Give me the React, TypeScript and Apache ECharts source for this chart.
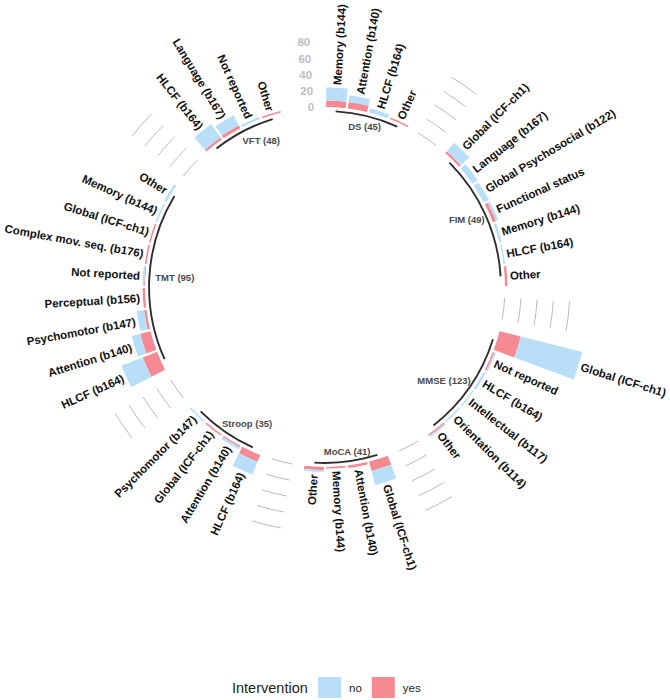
import React, { useEffect, useRef } from "react";
import * as echarts from "echarts";

// ---------- data ----------
const groups = ["DS", "FIM", "MMSE", "MoCA", "Stroop", "TMT", "VFT"];
const groupTotals = [45, 49, 123, 41, 35, 95, 48];

const dsCategories = ["Memory (b144)", "Attention (b140)", "HLCF (b164)", "Other"];
const dsYes = [8, 8, 0, 2];
const dsNo = [16, 8, 5, 0];

const fimCategories = ["Global (ICF-ch1)", "Language (b167)", "Global Psychosocial (b122)", "Functional status", "Memory (b144)", "HLCF (b164)", "Other"];
const fimYes = [3, 0, 0, 4, 0, 0, 3];
const fimNo = [14, 8, 7, 3, 3, 2, 0];

const mmseCategories = ["Global (ICF-ch1)", "Not reported", "HLCF (b164)", "Intellectual (b117)", "Orientation (b114)", "Other"];
const mmseYes = [27, 2, 0, 0, 0, 2];
const mmseNo = [78, 2, 3, 2, 2, 2];

const mocaCategories = ["Global (ICF-ch1)", "Attention (b140)", "Memory (b144)", "Other"];
const mocaYes = [12, 3, 2, 4];
const mocaNo = [18, 0, 0, 2];

const stroopCategories = ["HLCF (b164)", "Attention (b140)", "Global (ICF-ch1)", "Psychomotor (b147)"];
const stroopYes = [9, 2, 2, 0];
const stroopNo = [17, 3, 0, 2];

const tmtCategories = ["HLCF (b164)", "Attention (b140)", "Psychomotor (b147)", "Perceptual (b156)", "Not reported", "Complex mov. seq. (b176)", "Global (ICF-ch1)", "Memory (b144)", "Other"];
const tmtYes = [19, 13, 3, 3, 1, 2, 2, 0, 0];
const tmtNo = [28, 11, 9, 0, 2, 0, 0, 2, 3];

const vftCategories = ["HLCF (b164)", "Language (b167)", "Not reported", "Other"];
const vftYes = [3, 4, 0, 2];
const vftNo = [20, 14, 3, 0];

const gridValues = [0, 20, 40, 60, 80];
const radiusTickLabels = ["0", "20", "40", "60", "80"];
const seriesNames = ["no", "yes"];
const legendTitle = "Intervention";

// ---------- styling constants ----------
const EMPTY_SLOTS = 2;
const BLUE = "#B8DEF8";
const PINK = "#F58A93";
const FONT = '"Liberation Sans", Arial, Helvetica, sans-serif';
const BAR_LABEL_FONT = `bold 11.5px ${FONT}`;
const GROUP_LABEL_FONT = `bold 9.5px ${FONT}`;
const groupLabelHjust = [0.5, 0.75, 0.82, 0.45, 0.18, 0.12, 0.15];

// ---------- build slots ----------
const groupCats = [dsCategories, fimCategories, mmseCategories, mocaCategories, stroopCategories, tmtCategories, vftCategories];
const groupYes = [dsYes, fimYes, mmseYes, mocaYes, stroopYes, tmtYes, vftYes];
const groupNo = [dsNo, fimNo, mmseNo, mocaNo, stroopNo, tmtNo, vftNo];

type Slot = { id: string; label: string | null; yes: number; no: number };
const slots: Slot[] = [];
const groupRanges: { start: number; end: number }[] = [];
groupCats.forEach((cats, g) => {
  const start = slots.length;
  cats.forEach((c, i) => {
    slots.push({ id: `${groups[g]}|${c}`, label: c, yes: groupYes[g][i], no: groupNo[g][i] });
  });
  groupRanges.push({ start, end: slots.length - 1 });
  for (let k = 0; k < EMPTY_SLOTS; k++) {
    slots.push({ id: `gap|${g}|${k}`, label: null, yes: 0, no: 0 });
  }
});
const slotIds = slots.map((s) => s.id);
const yesData = slots.map((s) => (s.label ? s.yes : "-"));
const noData = slots.map((s) => (s.label ? s.no : "-"));

// bar labels
const barLabelItems = slots
  .map((s, i) => ({ s, i }))
  .filter((o) => o.s.label)
  .map((o) => ({ r: o.s.yes + o.s.no + 3.5, a: o.i, text: o.s.label as string }));

// grid segments in the gaps (not after the last group)
const gapSegments: { v: number; from: number; to: number }[] = [];
groupRanges.slice(0, -1).forEach((gr) => {
  gridValues.forEach((v) => gapSegments.push({ v, from: gr.end + 1, to: gr.end + 2 }));
});

// base arcs / group labels
const baseArcs = groupRanges.map((gr) => ({ v: -5, from: gr.start, to: gr.end }));
const groupLabels = groupRanges.map((gr, g) => ({ v: -18, from: gr.start, to: gr.end, text: `${groups[g]} (${groupTotals[g]})`, hjust: groupLabelHjust[g] }));

const lastSlot = slots.length - 1;

let measureCtx: CanvasRenderingContext2D | null = null;
function textWidth(text: string, font: string) {
  if (!measureCtx) measureCtx = document.createElement("canvas").getContext("2d");
  if (!measureCtx) return text.length * 5;
  measureCtx.font = font;
  return measureCtx.measureText(text).width;
}

function clockAngle(p: number[], cx: number, cy: number) {
  let t = Math.atan2(p[0] - cx, -(p[1] - cy));
  if (t < 0) t += Math.PI * 2;
  return t;
}

export default function App() {
  const ref = useRef<HTMLDivElement>(null);
  useEffect(() => {
    if (!ref.current) return;
    const chart = echarts.init(ref.current, undefined, { renderer: "svg" });

    const arcRender = (items: { v: number; from: number; to: number }[], stroke: string, lw: number) =>
      (params: any, api: any) => {
        const it = items[params.dataIndex];
        const cs = params.coordSys;
        const p1 = api.coord([it.v, it.from]);
        const p2 = api.coord([it.v, it.to]);
        const r = Math.hypot(p1[0] - cs.cx, p1[1] - cs.cy);
        const a1 = Math.atan2(p1[1] - cs.cy, p1[0] - cs.cx);
        const a2 = Math.atan2(p2[1] - cs.cy, p2[0] - cs.cx);
        return {
          type: "arc",
          shape: { cx: cs.cx, cy: cs.cy, r, startAngle: a1, endAngle: a2, clockwise: true },
          style: { stroke, lineWidth: lw, fill: "none" },
          silent: true,
        };
      };

    const option: any = {
      animation: false,
      polar: { center: [325, 287], radius: [0, 277.5] },
      angleAxis: {
        type: "category",
        data: slotIds,
        startAngle: 90,
        clockwise: true,
        boundaryGap: true,
        axisLine: { show: false },
        axisTick: { show: false },
        axisLabel: { show: false },
        splitLine: { show: false },
      },
      radiusAxis: {
        type: "value",
        min: -221.5,
        max: 120,
        axisLine: { show: false },
        axisTick: { show: false },
        axisLabel: { show: false },
        splitLine: { show: false },
      },
      legend: {
        data: seriesNames,
        left: 318,
        top: 677,
        padding: 0,
        itemWidth: 23,
        itemHeight: 21,
        itemGap: 10,
        icon: "rect",
        selectedMode: false,
        textStyle: { fontSize: 11.5, color: "#222", fontFamily: FONT, padding: [0, 0, 0, 3] },
      },
      graphic: [
        {
          type: "text",
          x: 232,
          y: 688,
          style: { text: legendTitle, font: `14.5px ${FONT}`, fill: "#222", verticalAlign: "middle", align: "left" },
        },
      ],
      series: [
        {
          name: "yes",
          type: "bar",
          coordinateSystem: "polar",
          stack: "total",
          data: yesData,
          barCategoryGap: "10%",
          itemStyle: { color: PINK },
          silent: true,
        },
        {
          name: "no",
          type: "bar",
          coordinateSystem: "polar",
          stack: "total",
          data: noData,
          barCategoryGap: "10%",
          itemStyle: { color: BLUE },
          silent: true,
        },
        {
          type: "custom",
          coordinateSystem: "polar",
          data: gapSegments.map((s) => [s.v, s.from]),
          renderItem: arcRender(gapSegments, "#A8A8A8", 0.8),
          silent: true,
        },
        {
          type: "custom",
          coordinateSystem: "polar",
          data: baseArcs.map((s) => [s.v, s.from]),
          renderItem: arcRender(baseArcs, "#2E2E2E", 1.9),
          silent: true,
        },
        {
          type: "custom",
          coordinateSystem: "polar",
          data: barLabelItems.map((b) => [b.r, b.a]),
          renderItem: (params: any, api: any) => {
            const it = barLabelItems[params.dataIndex];
            const cs = params.coordSys;
            const p = api.coord([it.r, it.a]);
            const t = (clockAngle(p, cs.cx, cs.cy) * 180) / Math.PI;
            const right = t < 180;
            const rot = right ? 90 - t : 270 - t;
            return {
              type: "text",
              x: p[0],
              y: p[1],
              rotation: (rot * Math.PI) / 180,
              style: { text: it.text, font: BAR_LABEL_FONT, fill: "#111", align: right ? "left" : "right", verticalAlign: "middle" },
              silent: true,
            };
          },
          silent: true,
        },
        {
          type: "custom",
          coordinateSystem: "polar",
          data: groupLabels.map((s) => [s.v, s.from]),
          renderItem: (params: any, api: any) => {
            const it = groupLabels[params.dataIndex];
            const cs = params.coordSys;
            const p1 = api.coord([it.v, it.from]);
            const p2 = api.coord([it.v, it.to]);
            const r = Math.hypot(p1[0] - cs.cx, p1[1] - cs.cy);
            const t = (clockAngle(p1, cs.cx, cs.cy) + clockAngle(p2, cs.cx, cs.cy)) / 2;
            const x = cs.cx + r * Math.sin(t);
            const y = cs.cy - r * Math.cos(t);
            const w = textWidth(it.text, GROUP_LABEL_FONT);
            return {
              type: "text",
              x: x - it.hjust * w,
              y,
              style: { text: it.text, font: GROUP_LABEL_FONT, fill: "#4A4A4A", align: "left", verticalAlign: "middle" },
              silent: true,
            };
          },
          silent: true,
        },
        {
          type: "custom",
          coordinateSystem: "polar",
          data: gridValues.map((v) => [v, lastSlot]),
          renderItem: (params: any, api: any) => {
            const p = api.coord([gridValues[params.dataIndex], lastSlot]);
            return {
              type: "text",
              x: p[0],
              y: p[1],
              style: { text: radiusTickLabels[params.dataIndex], font: `bold 11.5px ${FONT}`, fill: "#BDBDBD", align: "right", verticalAlign: "middle" },
              silent: true,
            };
          },
          silent: true,
        },
      ],
    };
    chart.setOption(option);
    return () => chart.dispose();
  }, []);
  return <div ref={ref} style={{ position: "absolute", left: 0, top: 0, width: 670, height: 700 }} />;
}
